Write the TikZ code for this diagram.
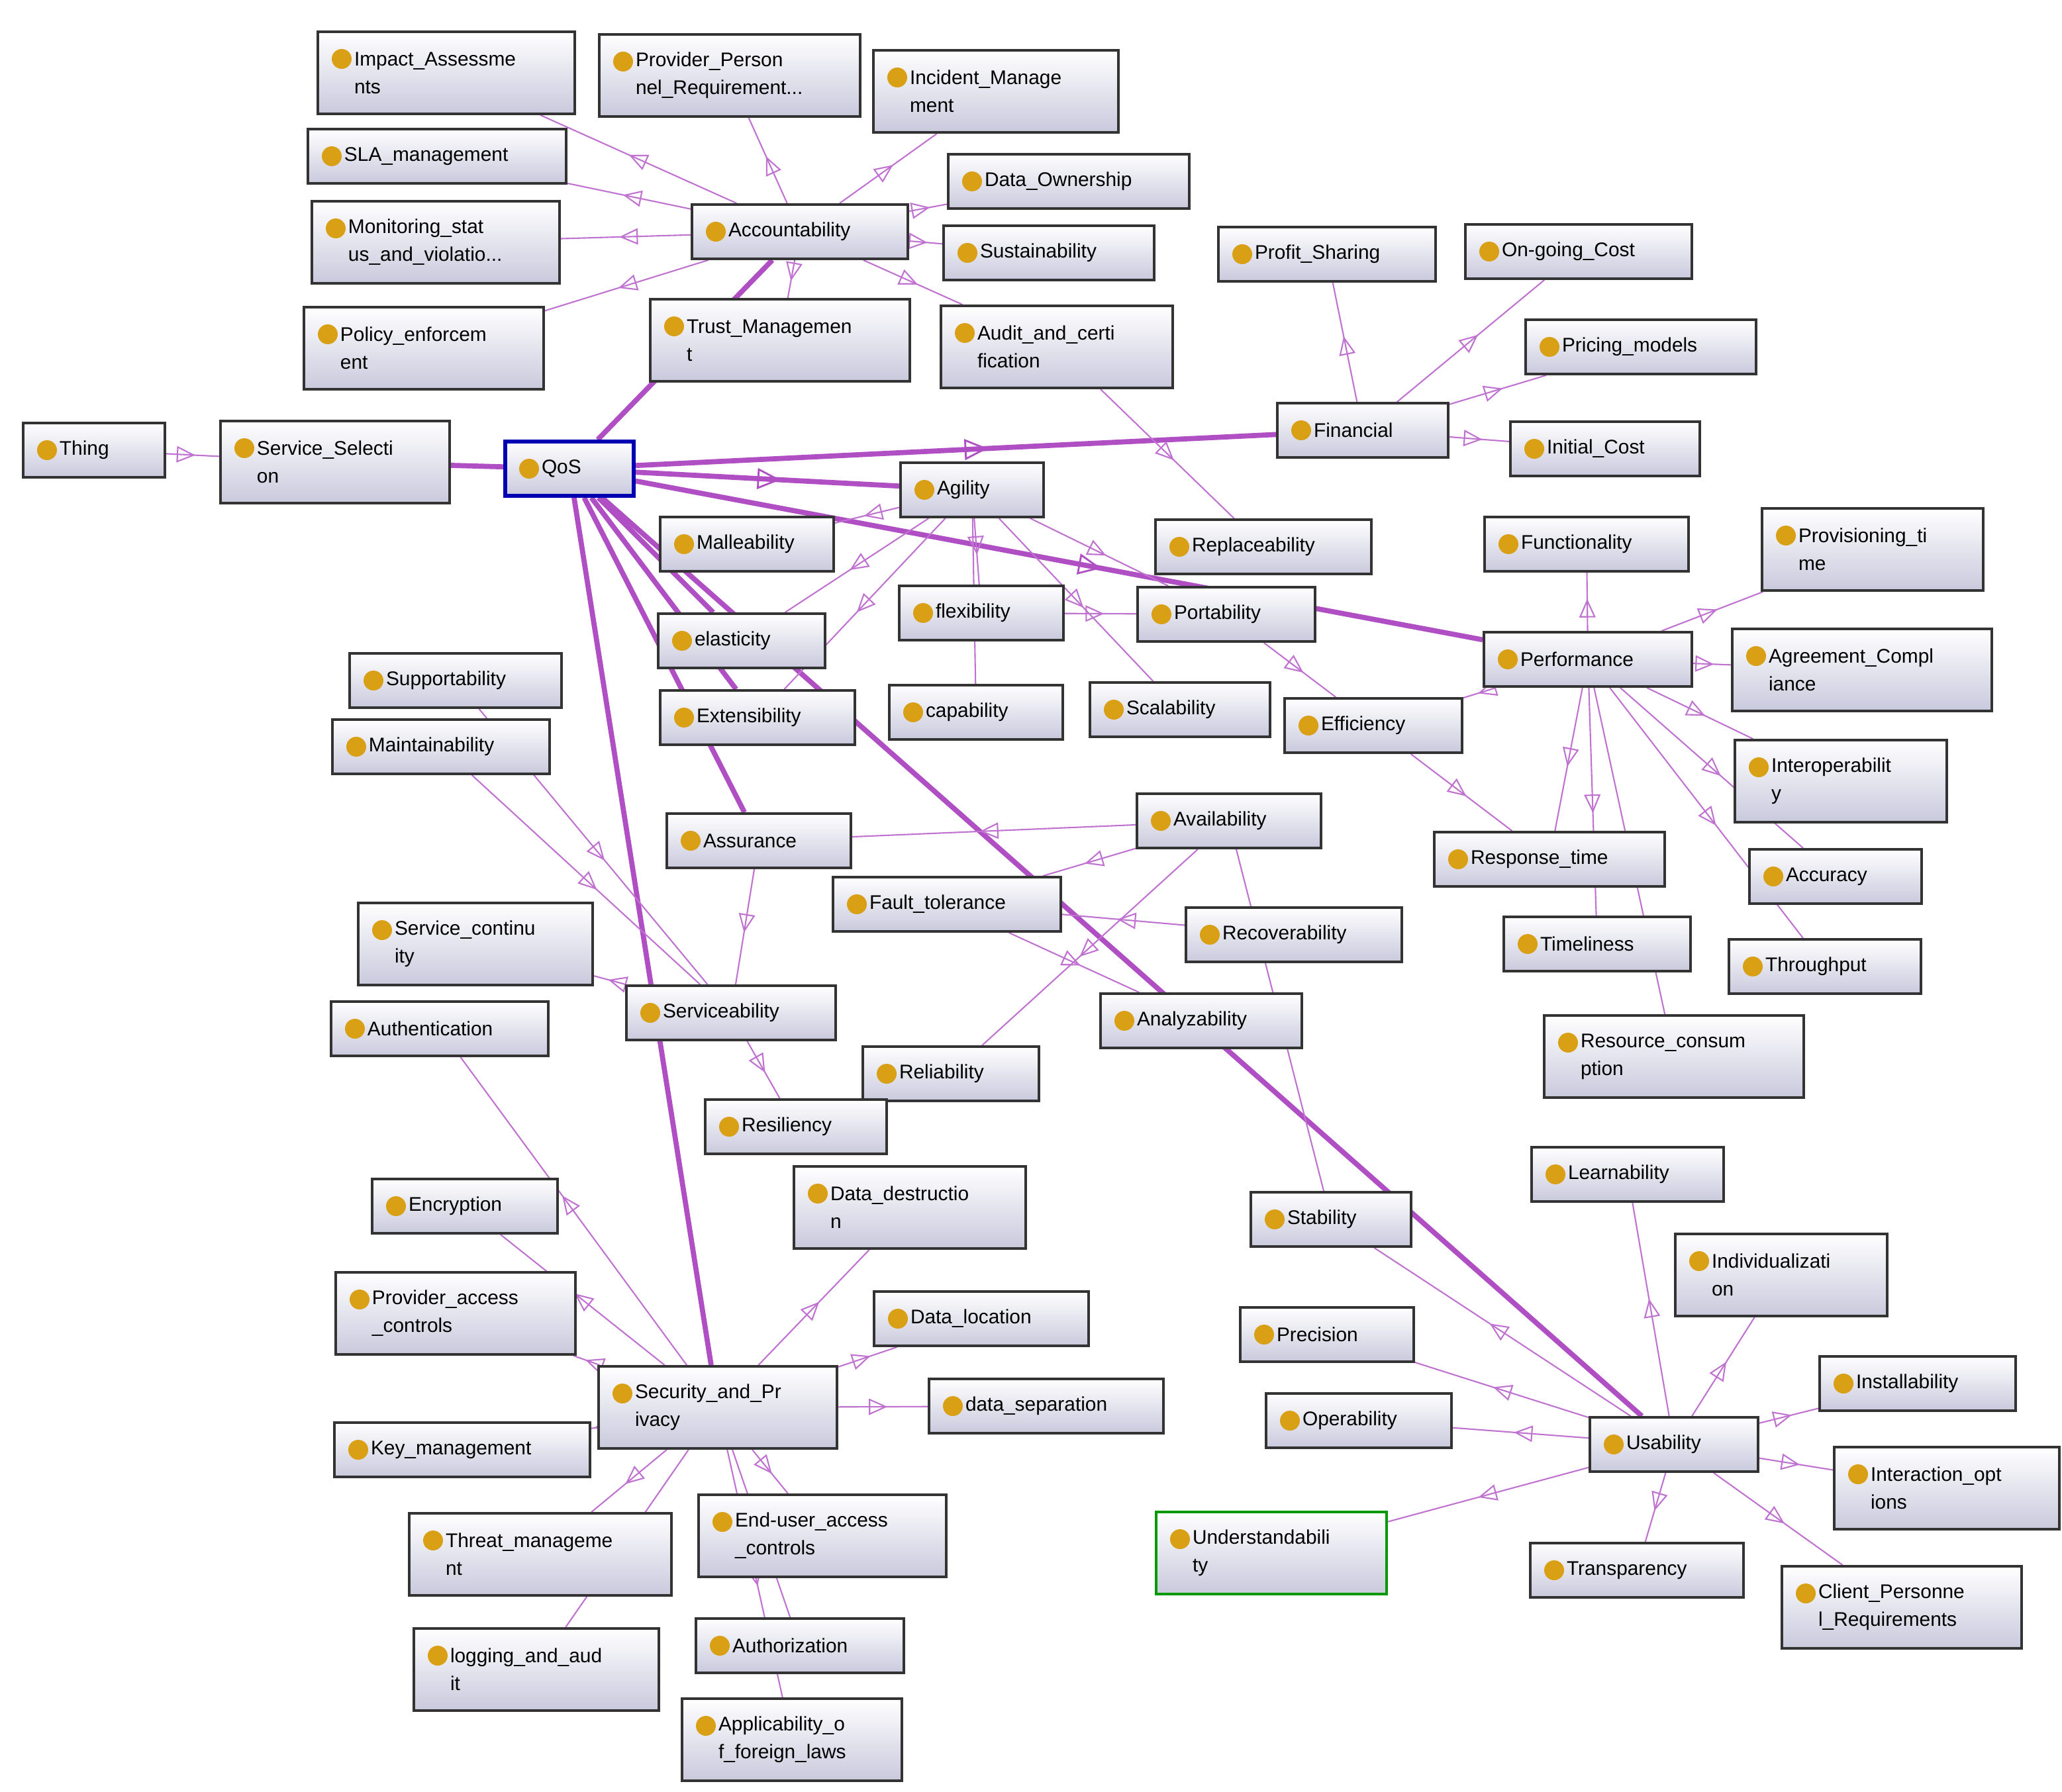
\documentclass[tikz,border=0pt]{standalone}
\usepackage{fontspec}
\setmainfont{Liberation Sans}
\usetikzlibrary{arrows.meta,decorations.markings,backgrounds}
\definecolor{dotc}{HTML}{D9A016}
\definecolor{isac}{HTML}{B04FC4}
\definecolor{boxb}{HTML}{C9C9DD}

\begin{document}
\begin{tikzpicture}[x=0.02cm,y=-0.02cm,
    cls/.style={draw=black!80,line width=1.1pt,top color=white,bottom color=boxb,
      minimum height=0.82cm,inner xsep=0.55cm,inner ysep=2pt,align=left,
      font=\fontsize{8.5}{12}\selectfont,
      text width=#1*0.02cm-1.1cm,
      path picture={\fill[dotc] ([xshift=0.36cm,yshift=-0.41cm]path picture bounding box.north west) circle (0.15cm);}},
    two/.style={minimum height=1.24cm},
    sub/.style={draw=isac!80,line width=0.6pt,postaction={decorate},
      decoration={markings,mark=at position 0.55 with {\arrow{Triangle[open,length=8pt,width=7pt]}}}},
    main/.style={draw=isac,line width=2.2pt},
    mainarr/.style={main,postaction={decorate},
      decoration={markings,mark=at position 0.55 with {\arrow[isac,line width=0.8pt]{Triangle[open,length=10pt,width=9pt]}}}}]
  \useasboundingbox (0,0) rectangle (1557,1353);

  % Accountability branch
  \node[cls=194,two] (impact) at (337,55) {Impact\_Assessme\\nts};
  \node[cls=197,two] (provpers) at (551,57) {Provider\_Person\\nel\_Requirement...};
  \node[cls=185,two] (incident) at (752,69) {Incident\_Manage\\ment};
  \node[cls=195] (sla) at (330,118) {SLA\_management};
  \node[cls=182] (ownership) at (807,137) {Data\_Ownership};
  \node[cls=187,two] (monitor) at (329,183) {Monitoring\_stat\\us\_and\_violatio...};
  \node[cls=163] (account) at (604,175) {Accountability};
  \node[cls=159] (sustain) at (792,191) {Sustainability};
  \node[cls=181,two] (policy) at (320,263) {Policy\_enforcem\\ent};
  \node[cls=196,two] (trust) at (589,257) {Trust\_Managemen\\t};
  \node[cls=175,two] (audit) at (798,262) {Audit\_and\_certi\\fication};

  % Financial branch
  \node[cls=164] (profit) at (1002,192) {Profit\_Sharing};
  \node[cls=171] (ongoing) at (1192,190) {On-going\_Cost};
  \node[cls=174] (pricing) at (1239,262) {Pricing\_models};
  \node[cls=129] (financial) at (1029,325) {Financial};
  \node[cls=143] (initial) at (1212,339) {Initial\_Cost};

  % Root
  \node[cls=107] (thing) at (71,340) {Thing};
  \node[cls=173,two] (selection) at (253,349) {Service\_Selecti\\on};
  \node[cls=97,draw=blue!70!black,line width=1.6pt] (qos) at (430,354) {QoS};

  % Agility branch
  \node[cls=108] (agility) at (734,370) {Agility};
  \node[cls=131] (malle) at (564,411) {Malleability};
  \node[cls=163] (replace) at (954,413) {Replaceability};
  \node[cls=124] (flex) at (741,463) {flexibility};
  \node[cls=134] (porta) at (926,464) {Portability};
  \node[cls=126] (elastic) at (560,484) {elasticity};
  \node[cls=147] (extens) at (572,542) {Extensibility};
  \node[cls=131] (capab) at (737,538) {capability};
  \node[cls=136] (scala) at (891,536) {Scalability};

  % Performance branch
  \node[cls=154] (function) at (1198,411) {Functionality};
  \node[cls=167,two] (provision) at (1414,415) {Provisioning\_ti\\me};
  \node[cls=157] (perform) at (1199,498) {Performance};
  \node[cls=196,two] (agreement) at (1406,506) {Agreement\_Compl\\iance};
  \node[cls=134] (effic) at (1037,548) {Efficiency};
  \node[cls=160,two] (interop) at (1390,590) {Interoperabilit\\y};
  \node[cls=174] (response) at (1170,649) {Response\_time};
  \node[cls=130] (accuracy) at (1386,662) {Accuracy};
  \node[cls=141] (timeli) at (1206,713) {Timeliness};
  \node[cls=145] (through) at (1378,730) {Throughput};
  \node[cls=196,two] (resource) at (1264,798) {Resource\_consum\\ption};

  % Assurance branch
  \node[cls=160] (support) at (344,514) {Supportability};
  \node[cls=164] (maintain) at (333,564) {Maintainability};
  \node[cls=139] (avail) at (928,620) {Availability};
  \node[cls=139] (assur) at (573,635) {Assurance};
  \node[cls=172] (fault) at (715,683) {Fault\_tolerance};
  \node[cls=177,two] (continuity) at (359,713) {Service\_continu\\ity};
  \node[cls=163] (recover) at (977,706) {Recoverability};
  \node[cls=158] (service) at (552,765) {Serviceability};
  \node[cls=152] (analyz) at (907,771) {Analyzability};
  \node[cls=133] (reliab) at (718,811) {Reliability};
  \node[cls=137] (resil) at (601,851) {Resiliency};
  \node[cls=121] (stabil) at (1005,921) {Stability};

  % Security branch
  \node[cls=164] (authen) at (332,777) {Authentication};
  \node[cls=175,two] (destruct) at (687,912) {Data\_destructio\\n};
  \node[cls=140] (encrypt) at (351,911) {Encryption};
  \node[cls=181,two] (provacc) at (344,992) {Provider\_access\\\_controls};
  \node[cls=162] (location) at (741,996) {Data\_location};
  \node[cls=180,two] (security) at (542,1063) {Security\_and\_Pr\\ivacy};
  \node[cls=177] (separation) at (790,1062) {data\_separation};
  \node[cls=193] (keymgmt) at (349,1095) {Key\_management};
  \node[cls=198,two] (threat) at (408,1174) {Threat\_manageme\\nt};
  \node[cls=187,two] (enduser) at (621,1160) {End-user\_access\\\_controls};
  \node[cls=185,two] (logging) at (405,1261) {logging\_and\_aud\\it};
  \node[cls=157] (authoriz) at (604,1243) {Authorization};
  \node[cls=166,two] (foreign) at (598,1314) {Applicability\_o\\f\_foreign\_laws};

  % Usability branch
  \node[cls=145] (learn) at (1229,887) {Learnability};
  \node[cls=160,two] (individ) at (1345,963) {Individualizati\\on};
  \node[cls=131] (precis) at (1002,1008) {Precision};
  \node[cls=148] (install) at (1448,1045) {Installability};
  \node[cls=140] (operab) at (1026,1073) {Operability};
  \node[cls=127] (usab) at (1264,1091) {Usability};
  \node[cls=170,two] (interact) at (1470,1124) {Interaction\_opt\\ions};
  \node[cls=174,two,draw=green!60!black] (understand) at (960,1173) {Understandabili\\ty};
  \node[cls=161] (transp) at (1236,1186) {Transparency};
  \node[cls=181,two] (client) at (1436,1214) {Client\_Personne\\l\_Requirements};

  \begin{pgfonlayer}{background}
  % Main links from QoS
  \draw[main] (selection) -- (qos);
  \draw[main] (qos) -- (account);
  \draw[mainarr] (qos) -- (financial);
  \draw[mainarr] (qos) -- (agility);
  \draw[mainarr] (qos) -- (perform);
  \draw[main] (qos) -- (elastic);
  \draw[main] (qos) -- (extens);
  \draw[main] (qos) -- (assur);
  \draw[main] (qos) -- (security);
  \draw[main] (qos) -- (usab);

  % Sub links
  \draw[sub] (thing) -- (selection);
  \foreach \c in {impact,provpers,incident,sla,ownership,monitor,sustain,policy,trust,audit}
    \draw[sub] (account) -- (\c);
  \foreach \c in {profit,ongoing,pricing,initial}
    \draw[sub] (financial) -- (\c);
  \foreach \c in {malle,elastic,extens,flex,capab,scala,porta}
    \draw[sub] (agility) -- (\c);
  \draw[sub] (flex) -- (porta);
  \draw[sub] (audit) -- (replace);
  \draw[sub] (porta) -- (effic);
  \foreach \c in {function,provision,agreement,interop,accuracy,through,response,timeli,resource,effic}
    \draw[sub] (perform) -- (\c);
  \draw[sub] (effic) -- (response);
  \draw[sub] (avail) -- (assur);
  \draw[sub] (assur) -- (service);
  \foreach \c in {fault,reliab,stabil}
    \draw[sub] (avail) -- (\c);
  \draw[sub] (recover) -- (fault);
  \draw[sub] (fault) -- (analyz);
  \draw[sub] (support) -- (service);
  \draw[sub] (maintain) -- (service);
  \draw[sub] (service) -- (continuity);
  \draw[sub] (service) -- (resil);
  \foreach \c in {authen,encrypt,provacc,keymgmt,threat,logging,enduser,authoriz,foreign,destruct,location,separation}
    \draw[sub] (security) -- (\c);
  \foreach \c in {stabil,precis,operab,understand,transp,client,interact,install,individ,learn}
    \draw[sub] (usab) -- (\c);
  \end{pgfonlayer}
\end{tikzpicture}
\end{document}
